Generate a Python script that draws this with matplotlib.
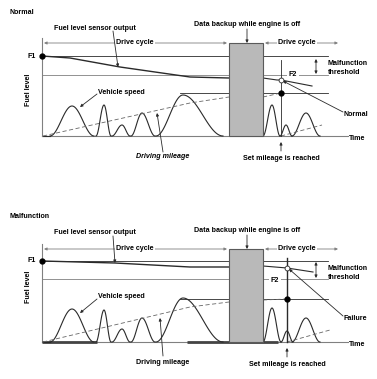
import numpy as np
import matplotlib.pyplot as plt

plt.rcParams['font.family'] = ['Liberation Sans Narrow', 'Liberation Sans', 'DejaVu Sans']
plt.rcParams['font.weight'] = 'bold'

# eixo x = tempo (px), eixo y = nivel acima da linha do tempo
titulos = ['Normal', 'Malfunction']
rotulo_fim = ['Normal', 'Failure']

# saida do sensor de combustivel (antes / depois da caixa)
sensor_t1 = [[42, 70, 120, 190, 229], [42, 115, 190, 229]]
sensor_v1 = [[80, 78, 69, 59, 58], [81, 79, 75, 75]]
sensor_t2 = [[263, 277, 281, 312], [263, 287, 313]]
sensor_v2 = [[58, 56, 56, 50], [76, 74, 70]]

# quilometragem (tracejado)
milha_t1 = [[43, 190, 229], [43, 190, 229]]
milha_v1 = [[0, 33, 39], [0, 35, 40]]
milha_t2 = [[263, 281], [263, 287]]
milha_v2 = [[39, 43], [42, 43]]
milha_t3 = [[281, 322], [287, 330]]
milha_v3 = [[0, 11], [0, 12]]

# velocidade: inicio, pico, fim, altura
vel_ini = [[50, 96, 112, 131, 156, 263, 280, 292], [50, 96, 112, 131, 156, 263, 281, 292]]
vel_pico = [[72, 104, 122, 142, 183, 272, 286, 306], [72, 104, 122, 142, 183, 272, 287, 306]]
vel_fim = [[94, 111, 130, 155, 223, 280, 292, 320], [94, 111, 130, 155, 223, 281, 293, 320]]
vel_alt = [[30, 31, 11, 23, 41, 31, 11, 23], [33, 32, 13, 24, 44, 34, 11, 24]]

nivel_f1 = [80, 81]
nivel_limiar = [61, 63]
nivel_ponto = [43, 43]
nivel_ciclo = [93, 93]
t_marca = [281, 287]
circ_v = [56, 74]

fig = plt.figure(figsize=(3.77, 3.79), dpi=100)
cor = '#2a2a2a'
cinza = '#808080'
fs = 5.1


def hump(ax, a, p, b, h, y0=0):
    t1 = np.linspace(a, p, 30)
    v1 = h * (1 - np.cos(np.pi * (t1 - a) / (p - a))) / 2
    t2 = np.linspace(p, b, 30)
    v2 = h * (1 + np.cos(np.pi * (t2 - p) / (b - p))) / 2
    ax.plot(np.r_[t1, t2], np.r_[v1, v2], color=cor, lw=0.8)


def seta(ax, xy, xytext, both=False):
    ax.annotate('', xy=xy, xytext=xytext,
                arrowprops=dict(arrowstyle='<|-|>' if both else '-|>', color=cor,
                                lw=0.6, mutation_scale=4, shrinkA=0, shrinkB=0))


for i in range(2):
    base_px = [136, 342][i]
    topo_px = [0, 189.5][i]
    fim_px = [189.5, 379][i]
    ax = fig.add_axes([0, 1 - fim_px / 379, 1, (fim_px - topo_px) / 379])
    ax.set_xlim(0, 377)
    ax.set_ylim(base_px - fim_px, base_px - topo_px)
    ax.axis('off')

    # linhas de referencia
    ax.plot([42, 328], [nivel_f1[i]] * 2, color=cor, lw=0.6)
    ax.plot([42, 328], [nivel_limiar[i]] * 2, color=cinza, lw=0.6)
    ax.plot([180, 328], [nivel_ponto[i]] * 2, color=cor, lw=0.6)
    ax.plot([42, 42], [98, 0], color=cinza, lw=0.8)
    ax.plot([42, 348], [0, 0], color=cinza, lw=0.8)
    if i == 1:
        ax.plot([42, 97], [0, 0], color='#444444', lw=2, solid_capstyle='butt')
        ax.plot([187, 278], [0, 0], color='#444444', lw=2, solid_capstyle='butt')

    # velocidade
    for a, p, b, h in zip(vel_ini[i], vel_pico[i], vel_fim[i], vel_alt[i]):
        hump(ax, a, p, b, h)
    ax.plot([43, 50], [0, 0], color=cor, lw=0.8)

    # quilometragem
    for tt, vv in [(milha_t1, milha_v1), (milha_t2, milha_v2), (milha_t3, milha_v3)]:
        ax.plot(tt[i], vv[i], color='#666666', lw=0.6, dashes=(5, 3))

    # sensor
    ax.plot(sensor_t1[i], sensor_v1[i], color=cor, lw=1.0)
    ax.plot(sensor_t2[i], sensor_v2[i], color=cor, lw=0.8)

    # caixa de backup
    ax.add_patch(plt.Rectangle((229, 0), 34, nivel_ciclo[i], fc='#b9b9b9',
                               ec='#5a5a5a', lw=0.8, zorder=3))

    # ciclos
    ax.annotate('', xy=(44, nivel_ciclo[i]), xytext=(227, nivel_ciclo[i]),
                arrowprops=dict(arrowstyle='<|-|>', color=cinza, lw=0.6,
                                mutation_scale=4, shrinkA=0, shrinkB=0))
    ax.annotate('', xy=(265, nivel_ciclo[i]), xytext=(338, nivel_ciclo[i]),
                arrowprops=dict(arrowstyle='<|-|>', color=cinza, lw=0.6,
                                mutation_scale=4, shrinkA=0, shrinkB=0))
    bb = dict(fc='white', ec='none', pad=1)
    ax.text(135, nivel_ciclo[i], 'Drive cycle', fontsize=fs, ha='center', va='center', bbox=bb)
    ax.text(297, nivel_ciclo[i], 'Drive cycle', fontsize=fs, ha='center', va='center', bbox=bb)

    # marca de quilometragem
    tm = t_marca[i]
    ax.plot([tm, tm], [[76, 84][i], 0], color=cor, lw=[0.6, 1.0][i])
    ax.plot(tm, nivel_ponto[i], 'o', color='black', ms=3.5, zorder=5)
    ax.plot(tm, circ_v[i], 'o', mfc='white', mec=cor, mew=0.6, ms=3.5, zorder=5)
    ax.plot(42, nivel_f1[i], 'o', color='black', ms=3.5, zorder=5)

    # textos
    ax.text(9, [124, 125][i], titulos[i], fontsize=fs, ha='left', va='center')
    ax.text(54, [108, 109][i], 'Fuel level sensor output', fontsize=fs, ha='left', va='center')
    seta(ax, ([118, 115][i], [69, 79][i]), (113, [105, 106][i]))
    ax.text(36, nivel_f1[i], 'F1', fontsize=fs, ha='right', va='center')
    ax.text(247, 111, 'Data backup while engine is off', fontsize=fs, ha='center', va='center')
    seta(ax, (247, nivel_ciclo[i]), (247, 107))
    ax.text(328, [68, 69][i], 'Malfunction\nthreshold', fontsize=fs, ha='left', va='center',
            linespacing=1.3)
    seta(ax, (316, [77, 80][i]), (316, [62, 64][i]), both=True)
    ax.text([293, 275][i], [61, 61][i], 'F2', fontsize=fs, ha='center', va='center', bbox=bb)
    ax.text(343, [21, 23][i], rotulo_fim[i], fontsize=fs, ha='left', va='center')
    seta(ax, (tm + 2, circ_v[i] - 1), (343, [24, 26][i]))
    ax.text(29, [46, 55][i], 'Fuel level', fontsize=fs, rotation=90, ha='center', va='center')
    ax.text(98, [44, 45][i], 'Vehicle speed', fontsize=fs, ha='left', va='center')
    seta(ax, (80, 29), (97, [42, 43][i]))
    ax.text(163, -21, 'Driving mileage', fontsize=fs, ha='center', va='center',
            style='italic' if i == 0 else 'normal')
    seta(ax, ([157, 160][i], [23, 24][i]), (163, [-16, -14][i]))
    ax.text(tm, -23, 'Set mileage is reached', fontsize=fs, ha='center', va='center')
    seta(ax, (tm, -6), (tm, -15))
    ax.text(349, -2, 'Time', fontsize=fs, ha='left', va='center')

fig.savefig('out.png', dpi=100)
